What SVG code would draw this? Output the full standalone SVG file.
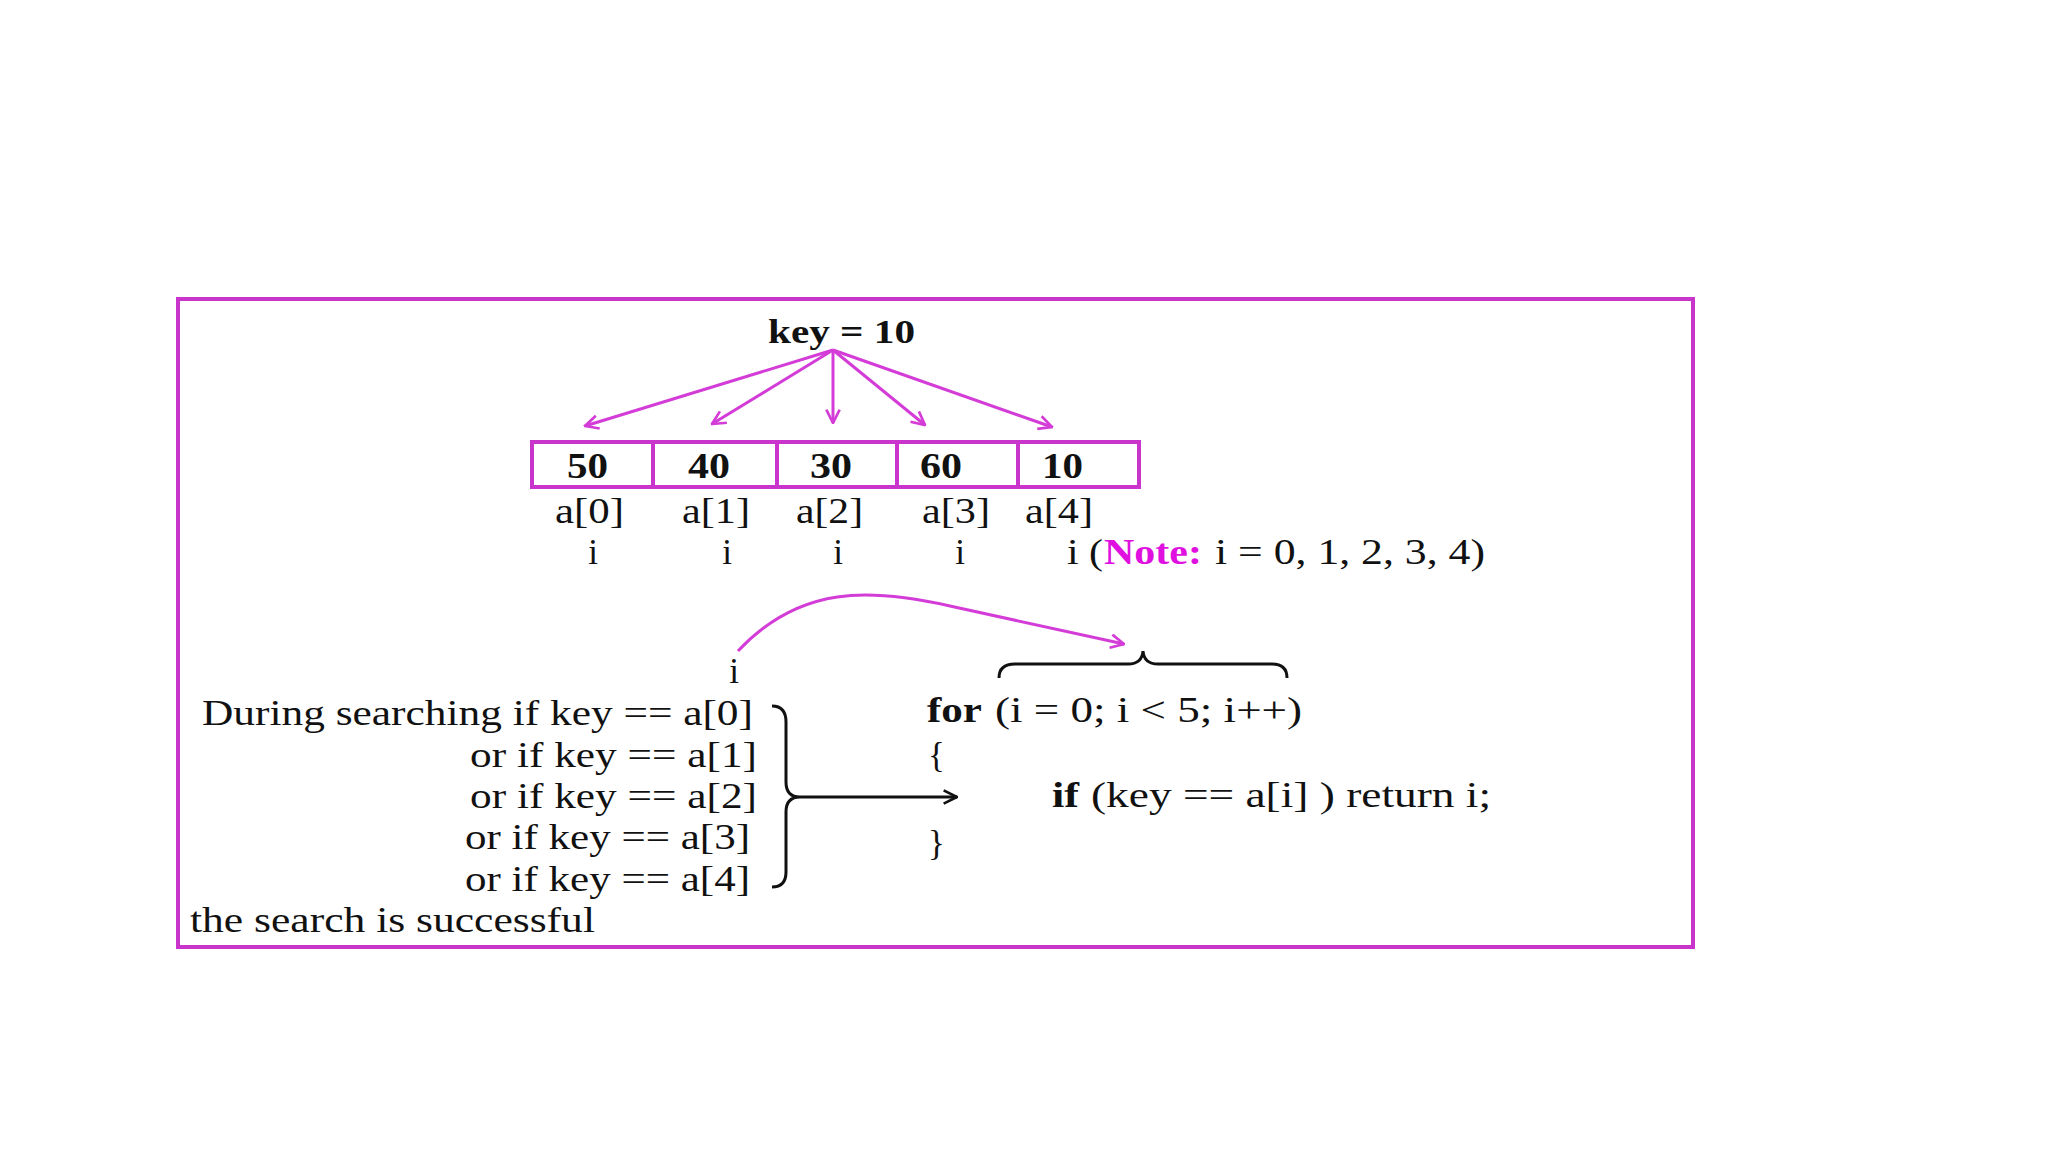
<svg xmlns="http://www.w3.org/2000/svg" width="2048" height="1152" viewBox="0 0 2048 1152">
<style>
  text { font-family: "Liberation Serif", "Times New Roman", serif; fill: #111; }
  .b { font-weight: bold; }
  .t { font-size: 35px; }
  .note { fill: #E010E0; font-weight: bold; }
  .frame { fill: none; stroke: #C935CC; stroke-width: 4; }
  .cell { fill: #fff; stroke: #C935CC; stroke-width: 4; }
  .mag { fill: none; stroke: #D43CD8; stroke-width: 3; }
  .blk { fill: none; stroke: #111; stroke-width: 3; }
</style>
<defs>
  <marker id="ahm" viewBox="0 0 12 12" refX="11" refY="6" markerWidth="16" markerHeight="16" markerUnits="userSpaceOnUse" orient="auto">
    <path d="M1,1 L11,6 L1,11" fill="none" stroke="#D43CD8" stroke-width="2"/>
  </marker>
  <marker id="ahk" viewBox="0 0 12 12" refX="11" refY="6" markerWidth="16" markerHeight="16" markerUnits="userSpaceOnUse" orient="auto">
    <path d="M1,1 L11,6 L1,11" fill="none" stroke="#111" stroke-width="2"/>
  </marker>
</defs>
<rect width="2048" height="1152" fill="#fff"/>
<rect id="frame" class="frame" x="178" y="299" width="1515" height="648"/>

<g id="key">
  <text class="b" x="768" y="343" font-size="33" textLength="147" lengthAdjust="spacingAndGlyphs">key = 10</text>
</g>

<g id="array">
  <rect class="cell" x="532" y="442" width="121" height="45"/>
  <rect class="cell" x="653" y="442" width="124" height="45"/>
  <rect class="cell" x="777" y="442" width="120" height="45"/>
  <rect class="cell" x="897" y="442" width="121" height="45"/>
  <rect class="cell" x="1018" y="442" width="121" height="45"/>
  <text class="b t" x="567" y="478" textLength="41" lengthAdjust="spacingAndGlyphs">50</text>
  <text class="b t" x="688" y="478" textLength="42" lengthAdjust="spacingAndGlyphs">40</text>
  <text class="b t" x="810" y="478" textLength="42" lengthAdjust="spacingAndGlyphs">30</text>
  <text class="b t" x="920" y="478" textLength="42" lengthAdjust="spacingAndGlyphs">60</text>
  <text class="b t" x="1042" y="478" textLength="41" lengthAdjust="spacingAndGlyphs">10</text>
</g>

<g id="indices">
  <text class="t" x="555" y="523" textLength="69" lengthAdjust="spacingAndGlyphs">a[0]</text>
  <text class="t" x="682" y="523" textLength="68" lengthAdjust="spacingAndGlyphs">a[1]</text>
  <text class="t" x="796" y="523" textLength="67" lengthAdjust="spacingAndGlyphs">a[2]</text>
  <text class="t" x="922" y="523" textLength="68" lengthAdjust="spacingAndGlyphs">a[3]</text>
  <text class="t" x="1025" y="523" textLength="68" lengthAdjust="spacingAndGlyphs">a[4]</text>
  <text class="t" x="593" y="564" text-anchor="middle">i</text>
  <text class="t" x="727" y="564" text-anchor="middle">i</text>
  <text class="t" x="838" y="564" text-anchor="middle">i</text>
  <text class="t" x="960" y="564" text-anchor="middle">i</text>
  <text class="t" x="1067" y="564" textLength="36" lengthAdjust="spacingAndGlyphs">i (</text>
  <text class="t note" x="1104" y="564" textLength="98" lengthAdjust="spacingAndGlyphs">Note:</text>
  <text class="t" x="1215" y="564" textLength="270" lengthAdjust="spacingAndGlyphs">i = 0, 1, 2, 3, 4)</text>
</g>

<g id="conditions">
  <text class="t" x="734" y="683" text-anchor="middle">i</text>
  <text class="t" x="202" y="725" textLength="551" lengthAdjust="spacingAndGlyphs">During searching if key == a[0]</text>
  <text class="t" x="470" y="767" textLength="287" lengthAdjust="spacingAndGlyphs">or if key == a[1]</text>
  <text class="t" x="470" y="808" textLength="287" lengthAdjust="spacingAndGlyphs">or if key == a[2]</text>
  <text class="t" x="465" y="849" textLength="285" lengthAdjust="spacingAndGlyphs">or if key == a[3]</text>
  <text class="t" x="465" y="891" textLength="285" lengthAdjust="spacingAndGlyphs">or if key == a[4]</text>
  <text class="t" x="190" y="932" textLength="405" lengthAdjust="spacingAndGlyphs">the search is successful</text>
</g>

<g id="code">
  <text class="t b" x="927" y="722" textLength="55" lengthAdjust="spacingAndGlyphs">for</text>
  <text class="t" x="995" y="722" textLength="307" lengthAdjust="spacingAndGlyphs">(i = 0; i &lt; 5; i++)</text>
  <text class="t" x="928" y="767">{</text>
  <text class="t b" x="1052" y="807" textLength="27" lengthAdjust="spacingAndGlyphs">if</text>
  <text class="t" x="1091" y="807" textLength="400" lengthAdjust="spacingAndGlyphs">(key == a[i] ) return i;</text>
  <text class="t" x="928" y="855">}</text>
</g>

<g id="connectors">
  <line class="mag" x1="833" y1="350" x2="585" y2="426" marker-end="url(#ahm)"/>
  <line class="mag" x1="833" y1="350" x2="712" y2="424" marker-end="url(#ahm)"/>
  <line class="mag" x1="833" y1="350" x2="833" y2="423" marker-end="url(#ahm)"/>
  <line class="mag" x1="833" y1="350" x2="925" y2="425" marker-end="url(#ahm)"/>
  <line class="mag" x1="833" y1="350" x2="1052" y2="427" marker-end="url(#ahm)"/>
  <path class="mag" d="M738,651 C800,585 870,588 950,606 L1124,644" marker-end="url(#ahm)"/>
  <path class="blk" stroke-width="2.5" d="M999,678 Q999,664 1015,664 L1128,664 Q1142,664 1143,651 Q1144,664 1158,664 L1272,664 Q1287,664 1287,678"/>
  <path class="blk" d="M772,706 Q786,706 786,722 L786,782 Q786,797 800,797 Q786,797 786,812 L786,872 Q786,887 772,887"/>
  <line class="blk" stroke-width="2.5" x1="800" y1="797" x2="957" y2="797" marker-end="url(#ahk)"/>
</g>
</svg>
